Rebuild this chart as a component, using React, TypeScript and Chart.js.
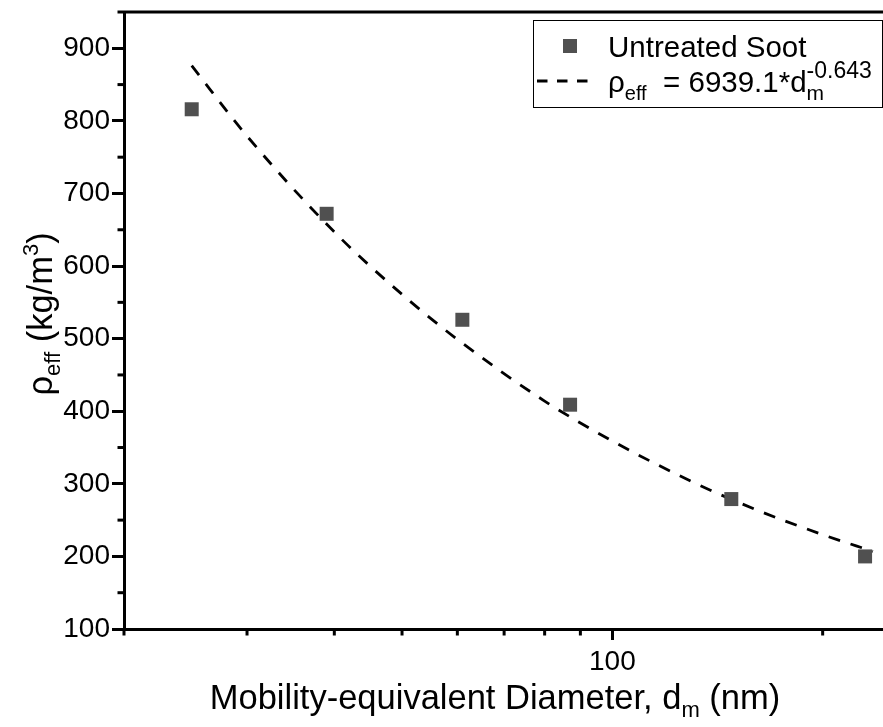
import React, { useEffect, useRef } from "react";
import { Chart, registerables } from "chart.js";

Chart.register(...registerables);

// Measured points (mobility diameter in nm, effective density in kg/m3)
const diameters = [25, 39, 61, 87, 148, 230];
const densities = [816, 672, 526, 409, 279, 200];

// Dashed fit curve
const fitDiameters = [25, 30, 40, 50, 60, 80, 100, 130, 160, 200, 236];
const fitDensities = [876, 779, 647, 561, 499, 414, 359, 303, 265, 230, 207];

// Axis ticks
const yMajorTicks = [100, 200, 300, 400, 500, 600, 700, 800, 900];
const yMinorTicks = [150, 250, 350, 450, 550, 650, 750, 850, 950];
const xMajorTicks = [100];
const xTickLabels = ["100"];
const xMinorTicks = [20, 30, 40, 50, 60, 70, 80, 90, 200];

const FONT = "'Liberation Sans', Arial, Helvetica, sans-serif";

type Seg = { t: string; size: number; dy: number; stack?: boolean };

function richWidth(ctx: CanvasRenderingContext2D, segs: Seg[]) {
  let cx = 0;
  let lastStart = 0;
  for (const s of segs) {
    ctx.font = `${s.size}px ${FONT}`;
    const start = s.stack ? lastStart : cx;
    const w = ctx.measureText(s.t).width;
    lastStart = start;
    cx = Math.max(cx, start + w);
  }
  return cx;
}

function drawRich(ctx: CanvasRenderingContext2D, segs: Seg[], x: number, y: number) {
  let cx = x;
  let lastStart = x;
  for (const s of segs) {
    ctx.font = `${s.size}px ${FONT}`;
    const start = s.stack ? lastStart : cx;
    ctx.fillText(s.t, start, y + s.dy);
    const w = ctx.measureText(s.t).width;
    lastStart = start;
    cx = Math.max(cx, start + w);
  }
  return cx - x;
}

export default function App() {
  const ref = useRef<HTMLCanvasElement>(null);

  useEffect(() => {
    const canvas = ref.current;
    if (!canvas) return;

    const overlay = {
      id: "overlay",
      afterDraw(chart: any) {
        const ctx: CanvasRenderingContext2D = chart.ctx;
        const { left, right, top, bottom } = chart.chartArea;
        const xs = chart.scales.x;
        const ys = chart.scales.y;
        ctx.save();
        ctx.strokeStyle = "#000";
        ctx.lineWidth = 3;
        ctx.lineCap = "butt";
        // top frame line
        ctx.beginPath();
        ctx.moveTo(left, top);
        ctx.lineTo(right, top);
        ctx.stroke();
        // minor ticks
        for (const v of yMinorTicks) {
          const py = ys.getPixelForValue(v);
          ctx.beginPath();
          ctx.moveTo(left, py);
          ctx.lineTo(left - 6.5, py);
          ctx.stroke();
        }
        for (const v of xMinorTicks) {
          const px = xs.getPixelForValue(v);
          ctx.beginPath();
          ctx.moveTo(px, bottom);
          ctx.lineTo(px, bottom + 6.5);
          ctx.stroke();
        }

        ctx.fillStyle = "#000";
        ctx.textBaseline = "alphabetic";
        ctx.textAlign = "left";

        // x axis title
        const xTitle: Seg[] = [
          { t: "Mobility-equivalent Diameter, d", size: 34.5, dy: 0 },
          { t: "m", size: 22, dy: 8 },
          { t: " (nm)", size: 34.5, dy: 0 },
        ];
        const xw = richWidth(ctx, xTitle);
        drawRich(ctx, xTitle, 495 - xw / 2, 709);

        // y axis title
        const yTitle: Seg[] = [
          { t: "ρ", size: 34.5, dy: 0 },
          { t: "eff", size: 22, dy: 8 },
          { t: " (kg/m", size: 34.5, dy: 0 },
          { t: "3", size: 22, dy: -14 },
          { t: ")", size: 34.5, dy: 0 },
        ];
        const yw = richWidth(ctx, yTitle);
        ctx.save();
        ctx.translate(40, 314);
        ctx.rotate(-Math.PI / 2);
        drawRich(ctx, yTitle, -yw / 2, 12);
        ctx.restore();

        // legend
        const bx = 533, by = 20, bw = 349, bh = 87;
        ctx.fillStyle = "#fff";
        ctx.fillRect(bx, by, bw, bh);
        ctx.lineWidth = 1;
        ctx.strokeStyle = "#000";
        ctx.strokeRect(bx + 0.5, by + 0.5, bw, bh);
        const ds0 = chart.data.datasets[0];
        const ds1 = chart.data.datasets[1];
        ctx.fillStyle = ds0.backgroundColor;
        ctx.fillRect(563, 39, 14, 14);
        ctx.strokeStyle = ds1.borderColor;
        ctx.lineWidth = ds1.borderWidth;
        ctx.setLineDash([10.5, 9.5]);
        ctx.beginPath();
        ctx.moveTo(537, 81);
        ctx.lineTo(588, 81);
        ctx.stroke();
        ctx.setLineDash([]);
        ctx.fillStyle = "#000";
        drawRich(ctx, [{ t: ds0.label, size: 29.5, dy: 0 }], 608, 57);
        drawRich(
          ctx,
          [
            { t: "ρ", size: 29.5, dy: 0 },
            { t: "eff", size: 20, dy: 8 },
            { t: "  = 6939.1*d", size: 29.5, dy: 0 },
            { t: "m", size: 21, dy: 8 },
            { t: "-0.643", size: 23, dy: -14, stack: true },
          ],
          608,
          92
        );
        ctx.restore();
      },
    };

    const chart = new Chart(canvas, {
      type: "scatter",
      data: {
        datasets: [
          {
            label: "Untreated Soot",
            data: diameters.map((d, i) => ({ x: d, y: densities[i] })),
            pointStyle: "rect",
            pointRadius: 9.9,
            pointHoverRadius: 9.9,
            backgroundColor: "#505050",
            borderColor: "#505050",
            borderWidth: 0,
            order: 1,
          },
          {
            label: "fit",
            data: fitDiameters.map((d, i) => ({ x: d, y: fitDensities[i] })),
            showLine: true,
            pointRadius: 0,
            borderColor: "#000",
            backgroundColor: "#000",
            borderWidth: 2.8,
            borderDash: [12, 11],
            cubicInterpolationMode: "monotone",
            fill: false,
            order: 2,
          } as any,
        ],
      },
      options: {
        animation: false,
        responsive: false,
        devicePixelRatio: 1,
        layout: { autoPadding: false, padding: { top: 12, left: 0, right: 0, bottom: 0 } },
        plugins: {
          legend: { display: false },
          tooltip: { enabled: false },
        },
        scales: {
          x: {
            type: "logarithmic",
            min: 20,
            max: 244,
            afterFit: (s: any) => {
              s.height = 98;
              s.paddingLeft = 0;
              s.paddingRight = 0;
            },
            afterBuildTicks: (s: any) => {
              s.ticks = xMajorTicks.map((v) => ({ value: v }));
            },
            ticks: {
              autoSkip: false,
              maxRotation: 0,
              padding: 5,
              color: "#000",
              font: { family: FONT, size: 28 },
              callback: (v: any) => {
                const i = xMajorTicks.indexOf(Number(v));
                return i >= 0 ? xTickLabels[i] : "";
              },
            },
            grid: {
              drawOnChartArea: false,
              drawTicks: true,
              tickLength: 11,
              tickWidth: 3,
              tickColor: "#000",
            },
            border: { display: true, width: 3, color: "#000" },
          },
          y: {
            type: "linear",
            min: 100,
            max: 950,
            afterFit: (s: any) => {
              s.width = 124;
              s.paddingTop = 0;
              s.paddingBottom = 0;
            },
            afterBuildTicks: (s: any) => {
              s.ticks = yMajorTicks.map((v) => ({ value: v }));
            },
            ticks: {
              padding: 2,
              color: "#000",
              font: { family: FONT, size: 28 },
            },
            grid: {
              drawOnChartArea: false,
              drawTicks: true,
              tickLength: 12,
              tickWidth: 3,
              tickColor: "#000",
            },
            border: { display: true, width: 3, color: "#000" },
          },
        },
      },
      plugins: [overlay],
    });

    return () => chart.destroy();
  }, []);

  return (
    <div
      style={{
        position: "absolute",
        left: 0,
        top: 0,
        width: 883,
        height: 727,
        overflow: "hidden",
        background: "#fff",
      }}
    >
      <canvas ref={ref} width={883} height={727} style={{ display: "block" }} />
    </div>
  );
}
